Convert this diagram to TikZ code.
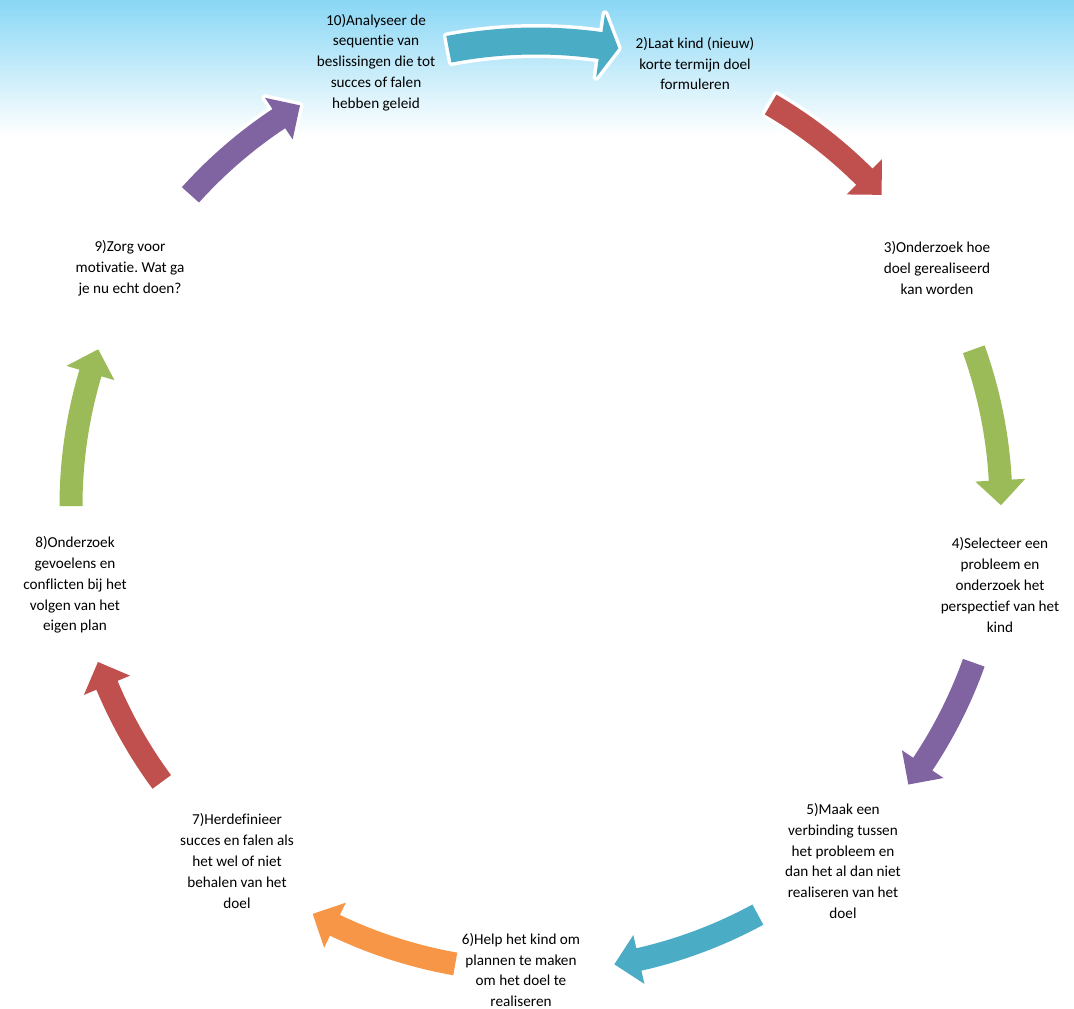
\documentclass[tikz,border=0pt]{standalone}
\usepackage{fontspec}
\setmainfont{Carlito}[Ligatures={NoCommon}]
\usepackage{tikz}
\usetikzlibrary{calc}
\frenchspacing

\definecolor{skytop}{RGB}{137,215,245}
\definecolor{acyan}{RGB}{75,172,198}
\definecolor{ared}{RGB}{192,80,77}
\definecolor{agreen}{RGB}{155,187,89}
\definecolor{apurple}{RGB}{128,100,162}
\definecolor{aorange}{RGB}{247,150,70}

\tikzset{
  steptext/.style={align=center, inner sep=0.75pt, font=\fontsize{15.2}{20.8}\selectfont, text=black},
  arrowfill/.style={fill=#1, draw=none, preaction={draw=white, line width=7pt, line join=round}}
}

% block arrow on the ring: colour, from angle, to angle, body half width, head half width, head length
\newcommand{\cyclearrow}[6]{%
  \pgfmathsetmacro{\hbase}{#3-#6/465*57.2958}%
  \pgfmathsetmacro{\rin}{465-#4}%
  \pgfmathsetmacro{\rout}{465+#4}%
  \pgfmathsetmacro{\hin}{465-#5}%
  \pgfmathsetmacro{\hout}{465+#5}%
  \fill[arrowfill=#1] (#2:\rin) arc[start angle=#2, end angle=\hbase, radius=\rin]
    -- (\hbase:\hin) -- (#3:465) -- (\hbase:\hout) -- (\hbase:\rout)
    arc[start angle=\hbase, end angle=#2, radius=\rout] -- cycle;
}

\begin{document}
\begin{tikzpicture}[x=1pt,y=1pt,yscale=-1,xscale=1]
\useasboundingbox (0,0) rectangle (1074,1009);
\shade[top color=skytop, bottom color=white] (0,0) rectangle (1074,135);

% ring of arrows
\begin{scope}[shift={(536,506)}]
\cyclearrow{acyan}{-100.8}{-79.8}{13.5}{32}{18}
\cyclearrow{ared}{-59.7}{-42}{11.5}{25}{25}
\cyclearrow{agreen}{-19.7}{-0.1}{11.5}{25}{25}
\cyclearrow{apurple}{19.7}{36.8}{11.5}{25}{25}
\cyclearrow{acyan}{61.5}{80.3}{11.5}{25}{25}
\cyclearrow{aorange}{100}{118.7}{11.5}{25}{25}
\cyclearrow{ared}{143.6}{160.4}{11.5}{25}{25}
\cyclearrow{agreen}{180}{199.7}{11.5}{25}{25}
\cyclearrow{apurple}{222}{239.5}{11.5}{25}{25}
\end{scope}

% steps
\node[steptext] (analyse) at (376,62.5) {10)Analyseer de\\sequentie van\\beslissingen die tot\\succes of falen\\hebben geleid};
\node[steptext] (doel) at (695,63.5) {2)Laat kind (nieuw)\\korte termijn doel\\formuleren};
\node[steptext] (realiseer) at (937,268) {3)Onderzoek hoe\\doel gerealiseerd\\kan worden};
\node[steptext] (probleem) at (1000,585) {4)Selecteer een\\probleem en\\onderzoek het\\perspectief van het\\kind};
\node[steptext] (verbind) at (843,861) {5)Maak een\\verbinding tussen\\het probleem en\\dan het al dan niet\\realiseren van het\\doel};
\node[steptext] (plannen) at (521,970) {6)Help het kind om\\plannen te maken\\om het doel te\\realiseren};
\node[steptext] (herdefinieer) at (237,861) {7)Herdefinieer\\succes en falen als\\het wel of niet\\behalen van het\\doel};
\node[steptext] (gevoelens) at (75,585) {8)Onderzoek\\gevoelens en\\conflicten bij het\\volgen van het\\eigen plan};
\node[steptext] (motivatie) at (130,268) {9)Zorg voor\\motivatie. Wat ga\\je nu echt doen?};
\end{tikzpicture}
\end{document}
